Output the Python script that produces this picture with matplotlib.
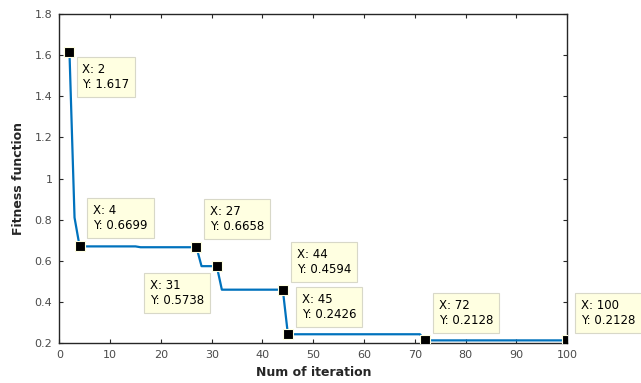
#!/usr/bin/env python

from matplotlib import pyplot as plt
from matplotlib.ticker import FuncFormatter

# convergence curve (breakpoints)
iteration = [2, 3, 4, 15, 16, 27, 28, 31, 32, 44, 45, 71, 72, 100]
fitness = [1.617, 0.81, 0.6699, 0.6699, 0.6658, 0.6658, 0.5738, 0.5738,
           0.4594, 0.4594, 0.2426, 0.2426, 0.2128, 0.2128]

# data tips shown on the curve
tip_x = [2, 4, 27, 31, 44, 45, 72, 100]
tip_y = [1.617, 0.6699, 0.6658, 0.5738, 0.4594, 0.2426, 0.2128, 0.2128]

x_ticks = list(range(0, 101, 10))
y_ticks = [0.2, 0.4, 0.6, 0.8, 1.0, 1.2, 1.4, 1.6, 1.8]

# label placement for each tip: (dx, dy) in pixels, ha, va
tip_place = [(13, -11, 'left', 'top'),
             (13.5, 14, 'left', 'bottom'),
             (13.5, 14, 'left', 'bottom'),
             (-13, -13, 'right', 'top'),
             (14, 14, 'left', 'bottom'),
             (14, 13, 'left', 'bottom'),
             (13.5, 13, 'left', 'bottom'),
             (14, 13, 'left', 'bottom')]

axcol = '#262626'

fig = plt.figure(figsize=(6.41, 3.83), dpi=100)
ax = fig.add_axes([0.0925, 0.1044, 0.7925, 0.859])

ax.plot(iteration, fitness, color='#0072BD', linewidth=1.6, zorder=2)
ax.plot(tip_x, tip_y, linestyle='none', marker='s', markersize=6.8,
        markerfacecolor='black', markeredgecolor='#FFFFE1',
        markeredgewidth=0.8, zorder=4)

for tx, ty, (dx, dy, ha, va) in zip(tip_x, tip_y, tip_place):
    ax.annotate('X: %g\nY: %g' % (tx, ty), xy=(tx, ty),
                xytext=(dx, dy), textcoords='offset pixels',
                ha=ha, va=va, multialignment='left', fontsize=8.5,
                color='black', annotation_clip=False, zorder=5,
                bbox=dict(boxstyle='square,pad=0.5', facecolor='#FFFFE1',
                          edgecolor='#D8D8C8', linewidth=0.8))

ax.set_xlim(0, 100)
ax.set_ylim(0.2, 1.8)
ax.set_xticks(x_ticks)
ax.set_yticks(y_ticks)
ax.yaxis.set_major_formatter(FuncFormatter(lambda v, p: '%g' % round(v, 2)))

ax.tick_params(direction='in', length=3, width=0.8, top=True, right=True,
               labelsize=8, colors=axcol, labelcolor='#4a4a4a', pad=5)
for s in ax.spines.values():
    s.set_color(axcol)
    s.set_linewidth(1.0)

ax.set_xlabel('Num of iteration', fontsize=9, fontweight='bold', color=axcol,
              labelpad=4)
ax.set_ylabel('Fitness function', fontsize=9, fontweight='bold', color=axcol,
              labelpad=7)

plt.savefig('out.png', dpi=100)
